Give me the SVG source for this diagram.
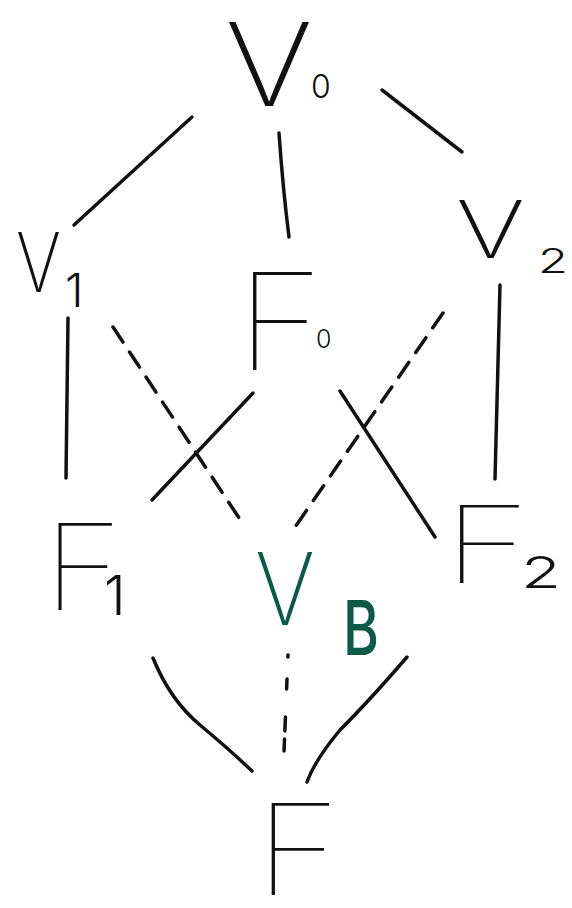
<svg xmlns="http://www.w3.org/2000/svg" width="572" height="908" viewBox="0 0 572 908">
<style>
.lbl{font-family:"Inter","DejaVu Sans","Liberation Sans",sans-serif;font-weight:200;fill:#111}
.f{font-weight:100}
.sub{font-weight:300}
.grn{fill:#0b5a48}
.bold{font-weight:500}
.ln{fill:none;stroke:#111;stroke-width:3.5;stroke-linecap:round}
.dsh{fill:none;stroke:#111;stroke-width:3.5;stroke-linecap:round;stroke-dasharray:18 12}
</style>
<rect width="572" height="908" fill="#fff"/>
<g id="connectors">
<path class="ln" d="M192,117 L74,225"/>
<path class="ln" d="M279,133 Q283,190 289,237"/>
<path class="ln" d="M382,90 L462,152"/>
<path class="ln" d="M68,318 L66,478"/>
<path class="ln" d="M500,285 L495,479"/>
<path class="ln" d="M253,393 L152,500"/>
<path class="ln" d="M340,391 L435,537"/>
<path class="ln" d="M153,658 Q170,700 200,725 Q230,750 252,771"/>
<path class="ln" d="M407,657 Q370,700 340,730 Q315,760 307,782"/>
<path class="dsh" d="M113,327 L245,527"/>
<path class="dsh" d="M443,313 L293,530"/>
<path class="dsh" d="M288,655 L284,752" style="stroke-dasharray:2 22 10 28 14 8 12 40"/>
</g>
<g id="V0"><text class="lbl"><tspan x="225" y="106" font-size="115" textLength="88" lengthAdjust="spacingAndGlyphs">V</tspan><tspan class="sub" x="311" y="98" font-size="32">0</tspan></text></g>
<g id="V1"><text class="lbl"><tspan x="16" y="292" font-size="82" textLength="45" lengthAdjust="spacingAndGlyphs">V</tspan><tspan class="sub" x="65" y="307" font-size="47">1</tspan></text></g>
<g id="V2"><text class="lbl"><tspan x="456" y="258" font-size="80" textLength="69" lengthAdjust="spacingAndGlyphs">V</tspan><tspan class="sub" x="538" y="273" font-size="34" textLength="30" lengthAdjust="spacingAndGlyphs">2</tspan></text></g>
<g id="F0"><text class="lbl f"><tspan x="236" y="370" font-size="135" textLength="88" lengthAdjust="spacingAndGlyphs">F</tspan><tspan class="sub" x="316" y="348" font-size="25">0</tspan></text></g>
<g id="F1"><text class="lbl f"><tspan x="43" y="610" font-size="120" textLength="80" lengthAdjust="spacingAndGlyphs">F</tspan><tspan class="sub" x="104" y="615" font-size="55">1</tspan></text></g>
<g id="VB"><text class="lbl grn"><tspan x="255" y="625" font-size="100" textLength="60" lengthAdjust="spacingAndGlyphs">V</tspan><tspan class="bold" x="343" y="655" font-size="76" textLength="36" lengthAdjust="spacingAndGlyphs">B</tspan></text></g>
<g id="F2"><text class="lbl f"><tspan x="443" y="583" font-size="107" textLength="88" lengthAdjust="spacingAndGlyphs">F</tspan><tspan class="sub" x="521" y="588" font-size="43" textLength="40" lengthAdjust="spacingAndGlyphs">2</tspan></text></g>
<g id="F"><text class="lbl f"><tspan x="255" y="895" font-size="127" textLength="86" lengthAdjust="spacingAndGlyphs">F</tspan></text></g>
</svg>
